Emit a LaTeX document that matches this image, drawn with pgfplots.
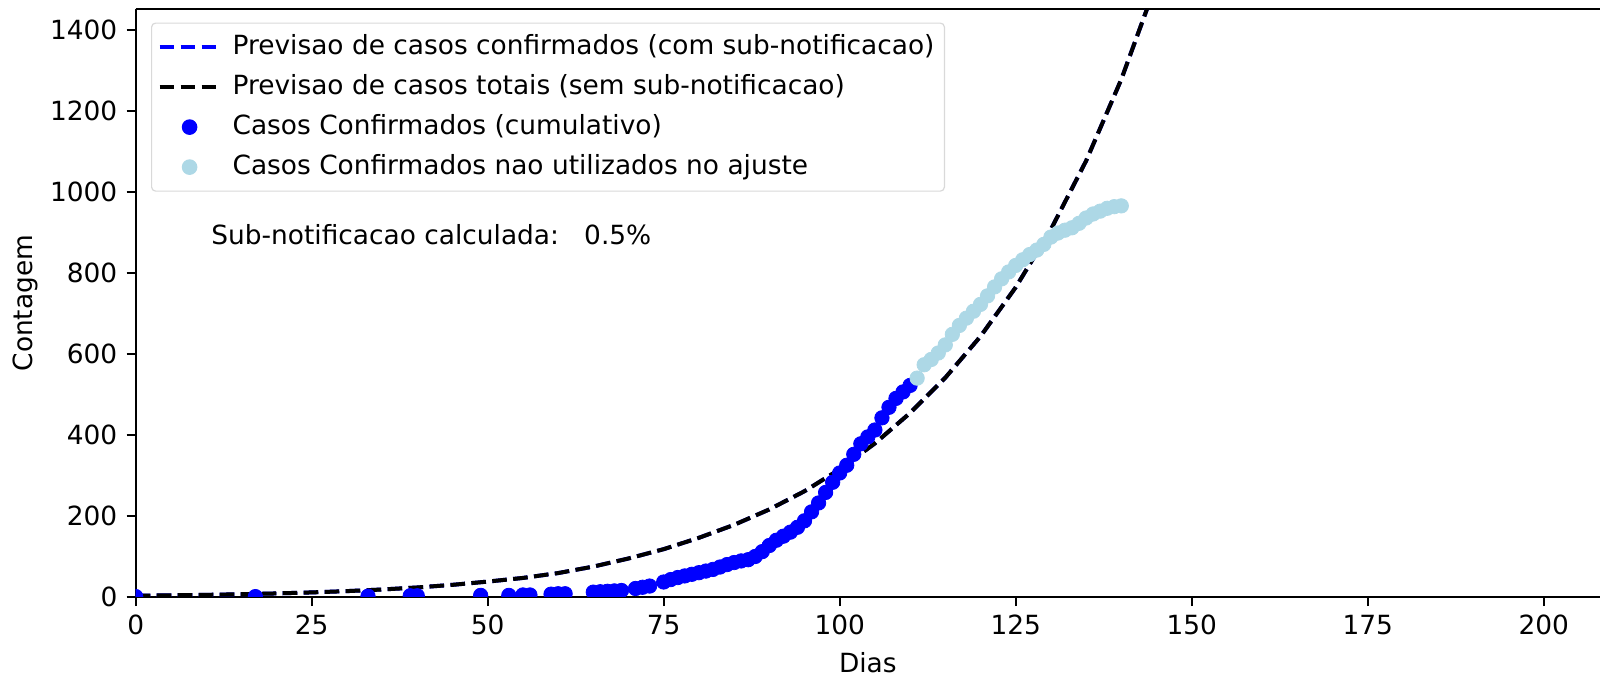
\documentclass[border=0pt]{standalone}
\usepackage{pgfplots}
\pgfplotsset{compat=1.18}
\usepackage{fontspec}
\setmainfont{DejaVu Sans}
\definecolor{mplblue}{HTML}{0000FF}
\definecolor{lblue}{HTML}{ADD8E6}
\newcommand{\fs}{\fontsize{13.2}{15.8}\selectfont}
\pgfplotsset{
  linelegend/.style={legend image code/.code={\draw[##1] (0pt,0pt) -- (30pt,0pt);}},
  marklegend/.style={legend image code/.code={\draw[mark repeat=2,mark phase=2,##1] plot coordinates {(0pt,0pt)(15pt,0pt)(30pt,0pt)};}},
}

\pgfplotstableread{
x y
0 3.2
5 4.1
10 5.3
15 6.8
20 8.8
25 11.3
30 14.5
35 18.5
40 23.5
45 30
50 38
55 47
60 59
65 75
70 95
75 118
80 146
85 178
90 216
95 261
100 315
105 379
110 454
115 541
120 643
125 764
130 907
135 1076
140 1277
145 1515
150 1800
}\curve

\pgfplotstableread{
x y
0 1
17 1
33 2
39 3
40 3
49 4
53 4
55 5
56 5
59 7
60 8
61 8
65 12
66 13
67 14
68 15
69 16
71 21
72 24
73 27
75 37
76 43
77 48
78 52
79 56
80 60
81 64
82 68
83 74
84 80
85 85
86 89
87 92
88 100
89 112
90 127
91 140
92 150
93 160
94 172
95 188
96 210
97 232
98 258
99 283
100 306
101 325
102 352
103 378
104 395
105 412
106 442
107 468
108 490
109 506
110 522
}\used

\pgfplotstableread{
x y
111 540
112 573
113 586
114 602
115 622
116 648
117 670
118 688
119 705
120 722
121 743
122 765
123 785
124 802
125 818
126 832
127 845
128 856
129 870
130 888
131 898
132 905
133 911
134 922
135 935
136 945
137 952
138 959
139 963
140 965
}\unused

\begin{document}
\fs
\begin{tikzpicture}
\begin{axis}[
  name=ax, at={(0,0)}, anchor=south west,
  scale only axis, width=732.15pt, height=293.85pt,
  xmin=0, xmax=208, ymin=0, ymax=1450,
  axis y line*=left,
  xtick={0,25,...,200}, ytick={0,200,...,1400},
  tick align=outside, xtick pos=bottom,
  major tick length=4.6pt,
  tick style={line width=1.05pt, black},
  axis line style={line width=1.05pt, black},
  ticklabel style={font=\fs},
  /pgf/number format/assume math mode=true,
  /pgf/number format/1000 sep={},
  xlabel={Dias}, ylabel={Contagem},
  every axis x label/.style={at={(axis description cs:0.5,-0.1123)}, anchor=center, font=\fs},
  every axis y label/.style={at={(axis description cs:-0.0751,0.5)}, rotate=90, anchor=center, font=\fs},
  clip marker paths=true,
  legend cell align=left,
  legend style={at={(0.01045,0.9775)}, anchor=north west, draw=black!15, rounded corners=2pt,
    fill=white, font=\fs, row sep=7pt,
    inner xsep=3pt, inner ysep=5.5pt, line width=0.6pt,
    nodes={inner ysep=0pt, text height=10pt, text depth=3pt},
    /tikz/every odd column/.append style={column sep=3.5pt}},
]
\addplot[mplblue, line width=2pt, dash pattern=on 7.3pt off 3.2pt, linelegend] table[x=x,y=y] {\curve};
\addlegendentry{Previsao de casos confirmados (com sub-notificacao)}
\addplot[black, line width=2pt, dash pattern=on 7.3pt off 3.2pt, linelegend] table[x=x,y=y] {\curve};
\addlegendentry{Previsao de casos totais (sem sub-notificacao)}
\addplot[only marks, mark=*, mark size=3.6pt, color=mplblue, mark options={fill=mplblue, draw=mplblue}, marklegend] table[x=x,y=y] {\used};
\addlegendentry{Casos Confirmados (cumulativo)}
\addplot[only marks, mark=*, mark size=3.6pt, color=lblue, mark options={fill=lblue, draw=lblue}, marklegend] table[x=x,y=y] {\unused};
\addlegendentry{Casos Confirmados nao utilizados no ajuste}
\node[anchor=west, inner xsep=0pt, font=\fs] at (axis cs:10.7,895) {Sub-notificacao calculada:~~~0.5\%};
\end{axis}
\pgfresetboundingbox
\path[use as bounding box] (-67.85pt,-41pt) rectangle (732.15pt,298.5pt);
\end{tikzpicture}
\end{document}
